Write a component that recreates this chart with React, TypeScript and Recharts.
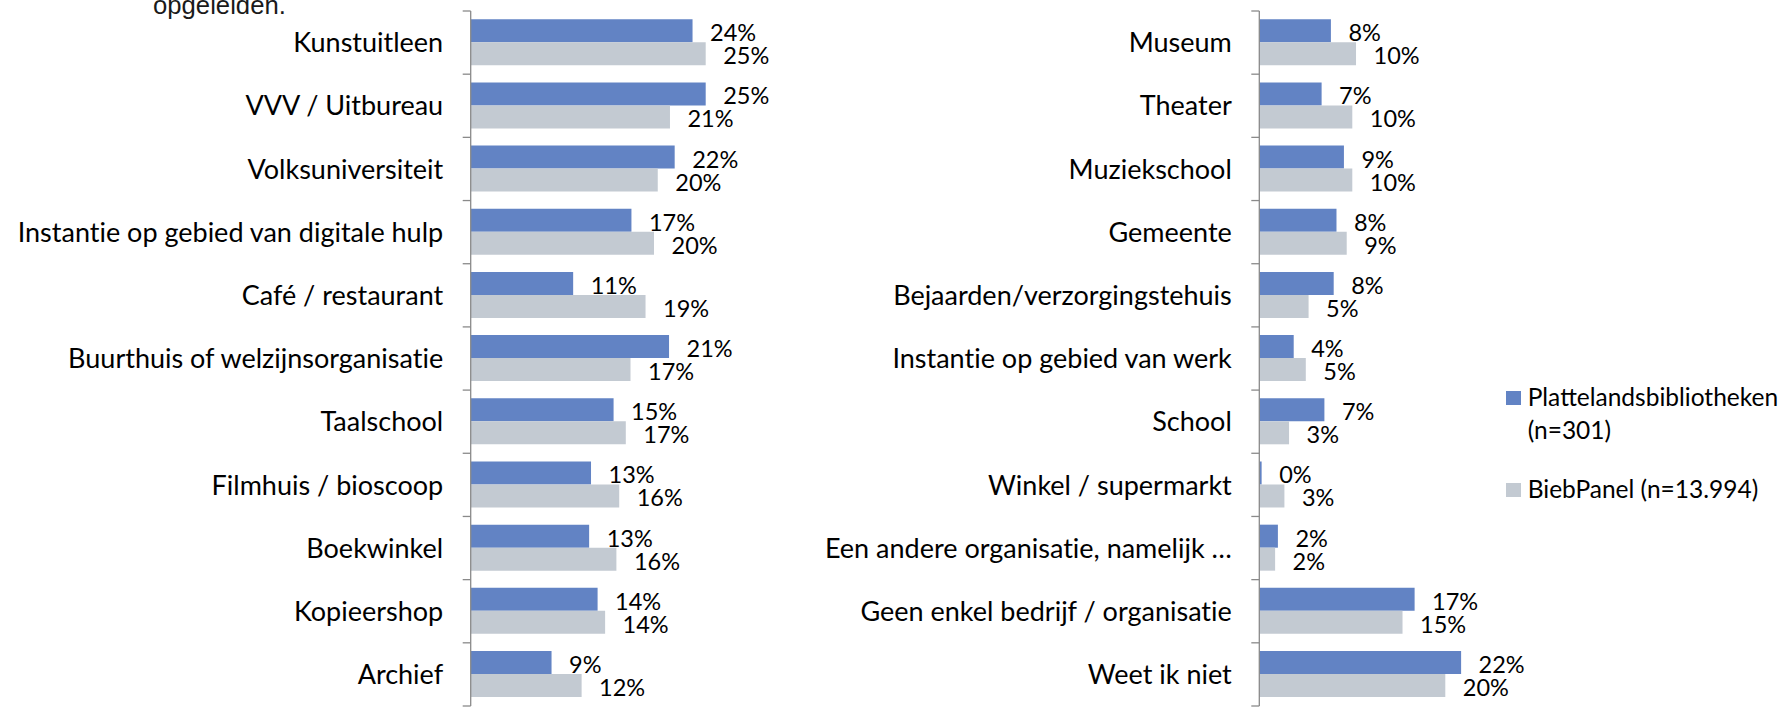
import React from 'react';
import { BarChart, Bar, XAxis, YAxis, LabelList } from 'recharts';

// left panel
const leftCategories = [
  'Kunstuitleen',
  'VVV / Uitbureau',
  'Volksuniversiteit',
  'Instantie op gebied van digitale hulp',
  'Café / restaurant',
  'Buurthuis of welzijnsorganisatie',
  'Taalschool',
  'Filmhuis / bioscoop',
  'Boekwinkel',
  'Kopieershop',
  'Archief',
];
const leftPlatteland = [23.6, 25.0, 21.7, 17.1, 10.9, 21.1, 15.2, 12.8, 12.6, 13.5, 8.6];
const leftBiebPanel = [25.0, 21.2, 19.9, 19.5, 18.6, 17.0, 16.5, 15.8, 15.5, 14.3, 11.8];

// right panel
const rightCategories = [
  'Museum',
  'Theater',
  'Muziekschool',
  'Gemeente',
  'Bejaarden/verzorgingstehuis',
  'Instantie op gebied van werk',
  'School',
  'Winkel / supermarkt',
  'Een andere organisatie, namelijk …',
  'Geen enkel bedrijf / organisatie',
  'Weet ik niet',
];
const rightPlatteland = [7.7, 6.7, 9.1, 8.3, 8.0, 3.7, 7.0, 0.25, 2.0, 16.7, 21.7];
const rightBiebPanel = [10.4, 10.0, 10.0, 9.4, 5.3, 5.0, 3.2, 2.7, 1.7, 15.4, 20.0];

const seriesNames = ['Plattelandsbibliotheken (n=301)', 'BiebPanel (n=13.994)'];

const BLUE = '#6283C4';
const GRAY = '#C3CAD2';
const AXIS = '#8A8A8A';
const FONT = 'Lato, "Open Sans", sans-serif';
const TICK_LEN = 8;
const LABEL_GAP = 27.5;

const toRows = (cats: string[], a: number[], b: number[]) =>
  cats.map((name, i) => ({ name, platteland: a[i], biebpanel: b[i] }));

const leftRows = toRows(leftCategories, leftPlatteland, leftBiebPanel);
const rightRows = toRows(rightCategories, rightPlatteland, rightBiebPanel);

// category label plus the small boundary ticks Excel draws between bands
const CategoryTick = (props: any) => {
  const { x, y, payload, index, visibleTicksCount } = props;
  const axisX = x + LABEL_GAP;
  const half = payload.offset || 0;
  const isLast = index === visibleTicksCount - 1;
  return (
    <g>
      <line x1={axisX - TICK_LEN} x2={axisX} y1={y - half} y2={y - half} stroke={AXIS} strokeWidth={1.3} />
      {isLast && (
        <line x1={axisX - TICK_LEN} x2={axisX} y1={y + half} y2={y + half} stroke={AXIS} strokeWidth={1.3} />
      )}
      <text
        x={x}
        y={y}
        dy="0.36em"
        textAnchor="end"
        fontSize={27}
        fontFamily={FONT}
        fill="#000"
        style={{ fontVariantLigatures: 'none' }}
      >
        {payload.value}
      </text>
    </g>
  );
};

// value label to the right of each bar
const ValueLabel = (props: any) => {
  const { x, y, width, height, value } = props;
  return (
    <text
      x={x + width + 17.5}
      y={y + height / 2 + 2}
      dy="0.36em"
      fontSize={23.5}
      fontFamily={FONT}
      fill="#000"
    >
      {`${Math.round(Number(value))}%`}
    </text>
  );
};

const Panel = ({ rows, width, axisWidth, plotWidth, max }: any) => (
  <BarChart
    layout="vertical"
    width={width}
    height={707}
    data={rows}
    margin={{ top: 11, right: width - axisWidth - plotWidth, bottom: 1, left: 0 }}
    barCategoryGap="13%"
    barGap={0}
  >
    <XAxis type="number" domain={[0, max]} hide />
    <YAxis
      type="category"
      dataKey="name"
      width={axisWidth}
      axisLine={{ stroke: AXIS, strokeWidth: 1.3 }}
      tickLine={false}
      tickSize={0}
      tickMargin={LABEL_GAP}
      interval={0}
      tick={<CategoryTick />}
    />
    <Bar dataKey="platteland" name={seriesNames[0]} fill={BLUE} isAnimationActive={false}>
      <LabelList dataKey="platteland" content={<ValueLabel />} />
    </Bar>
    <Bar dataKey="biebpanel" name={seriesNames[1]} fill={GRAY} isAnimationActive={false}>
      <LabelList dataKey="biebpanel" content={<ValueLabel />} />
    </Bar>
  </BarChart>
);

export default function App() {
  const colors = [BLUE, GRAY];
  return (
    <div style={{ position: 'absolute', left: 0, top: 0, width: 1787, height: 707, overflow: 'hidden', background: '#fff' }}>
      {/* tail end of the caption above, cut off by the crop */}
      <div
        style={{
          position: 'absolute',
          left: 153,
          top: -7,
          fontFamily: '"Liberation Sans", Arial, sans-serif',
          fontSize: 25.7,
          lineHeight: 1,
          color: '#1a1a1a',
        }}
      >
        opgeleiden.
      </div>

      <div style={{ position: 'absolute', left: 0, top: 0 }}>
        <Panel rows={leftRows} width={830} axisWidth={470.7} plotWidth={282} max={30} />
      </div>

      <div style={{ position: 'absolute', left: 790, top: 0 }}>
        <Panel rows={rightRows} width={780} axisWidth={469.3} plotWidth={232.5} max={25} />
      </div>

      {/* legend */}
      <div style={{ position: 'absolute', left: 1506, top: 380, fontFamily: FONT, fontSize: 24.5, lineHeight: '33px', color: '#000' }}>
        {seriesNames.map((name, i) => (
          <div key={name} style={{ display: 'flex', alignItems: 'flex-start', marginBottom: 26 }}>
            <span style={{ width: 15, height: 14.5, background: colors[i], marginTop: 10.7, flex: 'none' }} />
            <span style={{ marginLeft: 6.7, width: 262 }}>{name}</span>
          </div>
        ))}
      </div>
    </div>
  );
}
